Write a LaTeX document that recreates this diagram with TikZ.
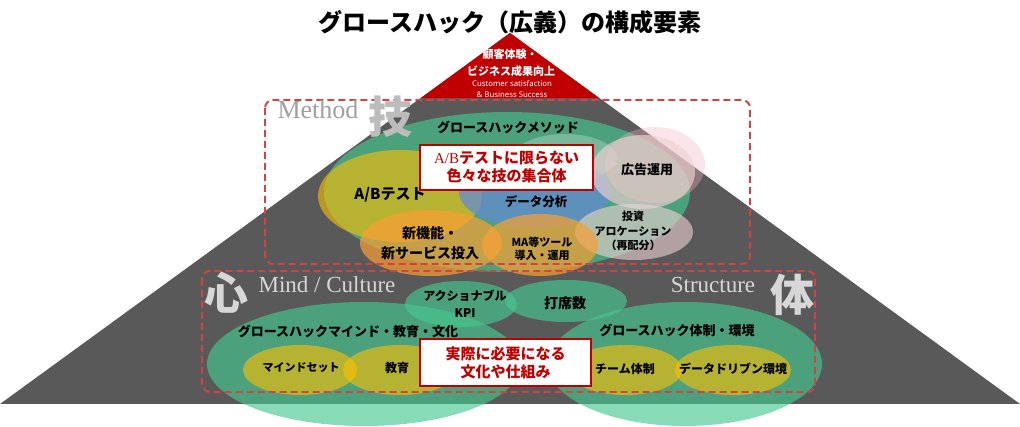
\documentclass[tikz,border=0pt]{standalone}
\usepackage{fontspec}
\setmainfont{Noto Sans CJK JP}
\newfontfamily\serifl{Liberation Serif}
\newfontfamily\latsans{Noto Sans}
\usetikzlibrary{shapes.geometric}
\definecolor{bggray}{RGB}{89,89,89}
\definecolor{topred}{RGB}{192,0,0}
\definecolor{grn}{RGB}{70,200,145}
\definecolor{ylw}{RGB}{255,192,0}
\definecolor{org}{RGB}{250,160,50}
\definecolor{blu}{RGB}{100,140,210}
\definecolor{pnk}{RGB}{240,210,210}
\definecolor{pnkb}{RGB}{245,180,195}
\definecolor{dashred}{RGB}{215,65,65}
\definecolor{bigtxt}{RGB}{215,215,215}
\definecolor{methtxt}{RGB}{160,160,160}
\tikzset{
  fs/.style={font=\bfseries\fontsize{#1}{#1}\selectfont},
  lbl/.style={inner sep=0pt, align=center, text=black},
  redbox/.style={draw=topred, line width=2.6pt, fill=white, text=topred, align=center, inner sep=0pt},
  dashbox/.style={draw=dashred, line width=1.9pt, dash pattern=on 7pt off 4pt, rounded corners=8pt},
  gfill/.style={fill=grn, fill opacity=0.65},
  yfill/.style={fill=ylw, fill opacity=0.6},
  ofill/.style={fill=org, fill opacity=0.7},
  bigchar/.style={inner sep=0pt, text=bigtxt, font=\bfseries\fontsize{44}{44}\selectfont},
  engl/.style={inner sep=0pt, font=\serifl\fontsize{23}{23}\selectfont, text=bigtxt}
}
\begin{document}
\begin{tikzpicture}[x=1pt,y=-1pt]
\useasboundingbox (0,0) rectangle (1020,427);
% background triangle
\fill[bggray] (0,404) -- (510,33) -- (1020,404) -- cycle;
\fill[topred] (510,33) -- (421,98) -- (599,98) -- cycle;
% method ellipses
\fill[gfill] (507,192) ellipse [x radius=183pt, y radius=80pt];
\fill[white, fill opacity=0.25] (565,158) ellipse [x radius=52pt, y radius=24pt];
\fill[yfill] (400,196) ellipse [x radius=82pt, y radius=46pt];
\fill[blu, fill opacity=0.75] (535,192) ellipse [x radius=76pt, y radius=36pt];
\fill[pnkb, fill opacity=0.35] (655,165) ellipse [x radius=50pt, y radius=38pt];
\fill[pnk, fill opacity=0.65] (643,172) ellipse [x radius=52pt, y radius=37pt];
\fill[pnk, fill opacity=0.6] (634,232) ellipse [x radius=59pt, y radius=28pt];
\fill[ofill] (431,243) ellipse [x radius=71pt, y radius=33pt];
\fill[ofill] (540,245) ellipse [x radius=58pt, y radius=31pt];
% lower ellipses
\fill[gfill] (364,364) ellipse [x radius=157pt, y radius=62pt];
\fill[gfill] (685,364) ellipse [x radius=137pt, y radius=62pt];
\fill[gfill] (461,304) ellipse [x radius=56pt, y radius=23pt];
\fill[gfill] (566,301) ellipse [x radius=61pt, y radius=21pt];
\fill[yfill] (300,370) ellipse [x radius=57pt, y radius=25pt];
\fill[yfill] (400,370) ellipse [x radius=57pt, y radius=25pt];
\fill[yfill] (625,370) ellipse [x radius=57pt, y radius=25pt];
\fill[yfill] (733,370) ellipse [x radius=58pt, y radius=25pt];
% dashed boxes
\draw[dashbox] (265,100) rectangle (750,264);
\draw[dashbox] (202,271) rectangle (815,392);
% big characters and english labels
\node[inner sep=0pt, text=methtxt, font=\serifl\fontsize{26}{26}\selectfont] (method) at (318,110) {Method};
\node[bigchar, text=methtxt!70!white] (gi) at (390,117) {技};
\node[bigchar] (kokoro) at (226,293) {心};
\node[engl] (mind) at (327,285) {Mind / Culture};
\node[engl] (struct) at (713,285) {Structure};
\node[bigchar] (tai) at (792,295) {体};
% title
\node[lbl, fs=24] (title) at (510,22) {グロースハック（広義）の構成要素};
% top triangle text
\node[lbl, fs=11, text=white] (t1) at (510,54) {顧客体験・};
\node[lbl, fs=11, text=white] (t2) at (511,71) {ビジネス成果向上};
\node[inner sep=0pt, text=white, font=\latsans\fontsize{7.8}{8}\selectfont] (t3) at (512,84) {Customer satisfaction};
\node[inner sep=0pt, text=white, font=\latsans\fontsize{7.8}{8}\selectfont] (t4) at (512,95) {\& Business Success};
% method labels
\node[lbl, fs=13] (gm) at (508,127) {グロースハックメソッド};
\node[lbl, fs=15] (ab) at (390,195) {A/Bテスト};
\node[lbl, fs=12.5] (da) at (536,202) {データ分析};
\node[lbl, fs=13] (ad) at (647,170) {広告運用};
\node[lbl, font=\bfseries\fontsize{11}{14.5}\selectfont] (inv) at (633,231) {投資\\アロケーション\\（再配分）};
\node[lbl, font=\bfseries\fontsize{14}{20}\selectfont] (nf) at (430,243) {新機能・\\新サービス投入};
\node[lbl, font=\bfseries\fontsize{11}{13}\selectfont] (ma) at (542,249) {MA等ツール\\導入・運用};
\node[redbox, minimum width=173pt, minimum height=45pt, font=\bfseries\fontsize{15}{18}\selectfont] (rb1) at (506.5,167.5) {{\serifl\mdseries A/B}テストに限らない\\色々な技の集合体};
% lower labels
\node[lbl, font=\bfseries\fontsize{12}{17}\selectfont] (kpi) at (465,304) {アクショナブル\\KPI};
\node[lbl, fs=14] (das) at (565,303) {打席数};
\node[lbl, fs=13] (gmc) at (348,331) {グロースハックマインド・教育・文化};
\node[lbl, fs=13] (gse) at (677,330) {グロースハック体制・環境};
\node[lbl, fs=11] (ms) at (301,368) {マインドセット};
\node[lbl, fs=12] (ed) at (397,368) {教育};
\node[lbl, fs=12] (tm) at (625,369) {チーム体制};
\node[lbl, fs=12] (dd) at (733,369) {データドリブン環境};
\node[redbox, minimum width=171pt, minimum height=47pt, font=\bfseries\fontsize{15}{18}\selectfont] (rb2) at (505.5,362.5) {実際に必要になる\\文化や仕組み};
\end{tikzpicture}
\end{document}
